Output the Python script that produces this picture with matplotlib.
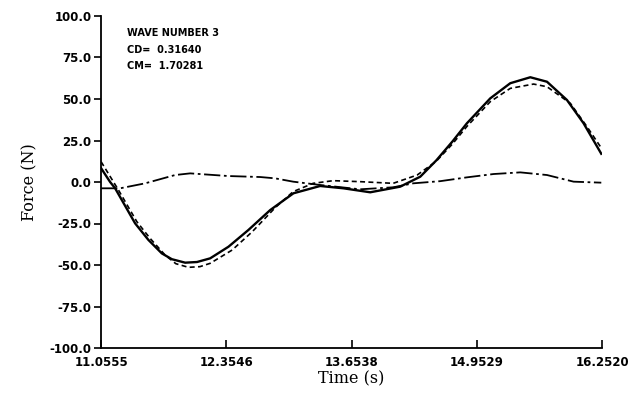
import matplotlib

matplotlib.use("Agg")
import matplotlib.pyplot as plt
from matplotlib.ticker import FormatStrFormatter

# values
XTICKS = [11.0555, 12.3546, 13.6538, 14.9529, 16.2520]
YTICKS = [-100.0, -75.0, -50.0, -25.0, 0.0, 25.0, 50.0, 75.0, 100.0]

measured_t = [11.0555, 11.149, 11.201, 11.408, 11.546, 11.685, 11.789, 11.927,
              12.050, 12.186, 12.376, 12.583, 12.809, 13.050, 13.327, 13.569,
              13.846, 14.157, 14.365, 14.531, 14.700, 14.849, 15.091, 15.298,
              15.506, 15.679, 15.886, 16.058, 16.242]
measured_f = [8.3, 0.0, -3.8, -24.9, -34.9, -43.0, -46.5, -48.6,
              -48.2, -46.0, -39.0, -28.9, -16.9, -6.8, -2.4, -3.8,
              -6.2, -2.8, 3.2, 13.0, 24.5, 35.4, 50.4, 59.5,
              63.1, 60.4, 49.4, 35.4, 17.0]

predicted_t = [11.0555, 11.235, 11.426, 11.564, 11.719, 11.830, 11.961, 12.080,
               12.186, 12.414, 12.622, 12.860, 13.047, 13.254, 13.462, 13.742,
               14.084, 14.333, 14.531, 14.700, 14.849, 15.091, 15.298, 15.540,
               15.679, 15.921, 16.094, 16.242]
predicted_f = [12.2, -4.8, -23.9, -34.0, -44.0, -49.2, -51.4, -51.0,
               -49.0, -41.0, -30.0, -15.5, -5.8, -0.8, 0.8, 0.2,
               -0.8, 4.2, 12.5, 23.0, 33.5, 48.4, 56.4, 59.0,
               57.4, 47.4, 33.3, 20.5]

third_t = [11.0555, 11.253, 11.512, 11.823, 11.979, 12.373, 12.705, 12.860,
           13.047, 13.327, 13.742, 14.084, 14.292, 14.572, 14.849, 15.125,
           15.402, 15.679, 15.955, 16.242]
third_f = [-3.8, -3.8, -0.8, 4.2, 5.2, 3.6, 3.0, 2.2,
           0.2, -1.8, -4.4, -3.2, -0.8, 0.5, 2.8, 4.8,
           5.8, 4.2, 0.2, -0.4]

WAVE_LABEL = "WAVE NUMBER 3"
CD_LABEL = "CD=  0.31640"
CM_LABEL = "CM=  1.70281"


def main() -> None:
    fig = plt.figure(figsize=(6.28, 4.00), dpi=100)
    ax = fig.add_axes([0.161, 0.13, 0.798, 0.83])

    ax.plot(measured_t, measured_f, color="black", linewidth=1.7, linestyle="-",
            solid_joinstyle="round")
    ax.plot(predicted_t, predicted_f, color="black", linewidth=1.2, linestyle=(0, (3, 2)))
    ax.plot(third_t, third_f, color="black", linewidth=1.3, linestyle=(0, (9, 2, 1.5, 2)))

    ax.set_xlim(XTICKS[0], XTICKS[-1])
    ax.set_ylim(-100, 100)
    ax.set_xticks(XTICKS)
    ax.set_xticklabels([f"{t:.4f}" for t in XTICKS])
    ax.set_yticks(YTICKS)
    ax.yaxis.set_major_formatter(FormatStrFormatter("%.1f"))

    for side in ("top", "right"):
        ax.spines[side].set_visible(False)
    for side in ("left", "bottom"):
        ax.spines[side].set_linewidth(1.3)
    ax.tick_params(axis="y", direction="out", length=5, width=1.2, labelsize=8.5, pad=2)
    ax.tick_params(axis="x", direction="in", length=6, width=1.2, labelsize=8.5, pad=6)
    for lab in ax.get_xticklabels() + ax.get_yticklabels():
        lab.set_fontweight("bold")

    ax.set_xlabel("Time (s)", family="DejaVu Serif", fontsize=11.5, labelpad=1)
    ax.set_ylabel("Force (N)", family="DejaVu Serif", fontsize=11.5, labelpad=8)

    ax.text(0.052, 0.94, WAVE_LABEL, transform=ax.transAxes, fontsize=7, fontweight="bold")
    ax.text(0.052, 0.89, CD_LABEL, transform=ax.transAxes, fontsize=7, fontweight="bold")
    ax.text(0.052, 0.84, CM_LABEL, transform=ax.transAxes, fontsize=7, fontweight="bold")

    fig.savefig("out.png", dpi=100)
    plt.close(fig)


if __name__ == "__main__":
    main()
